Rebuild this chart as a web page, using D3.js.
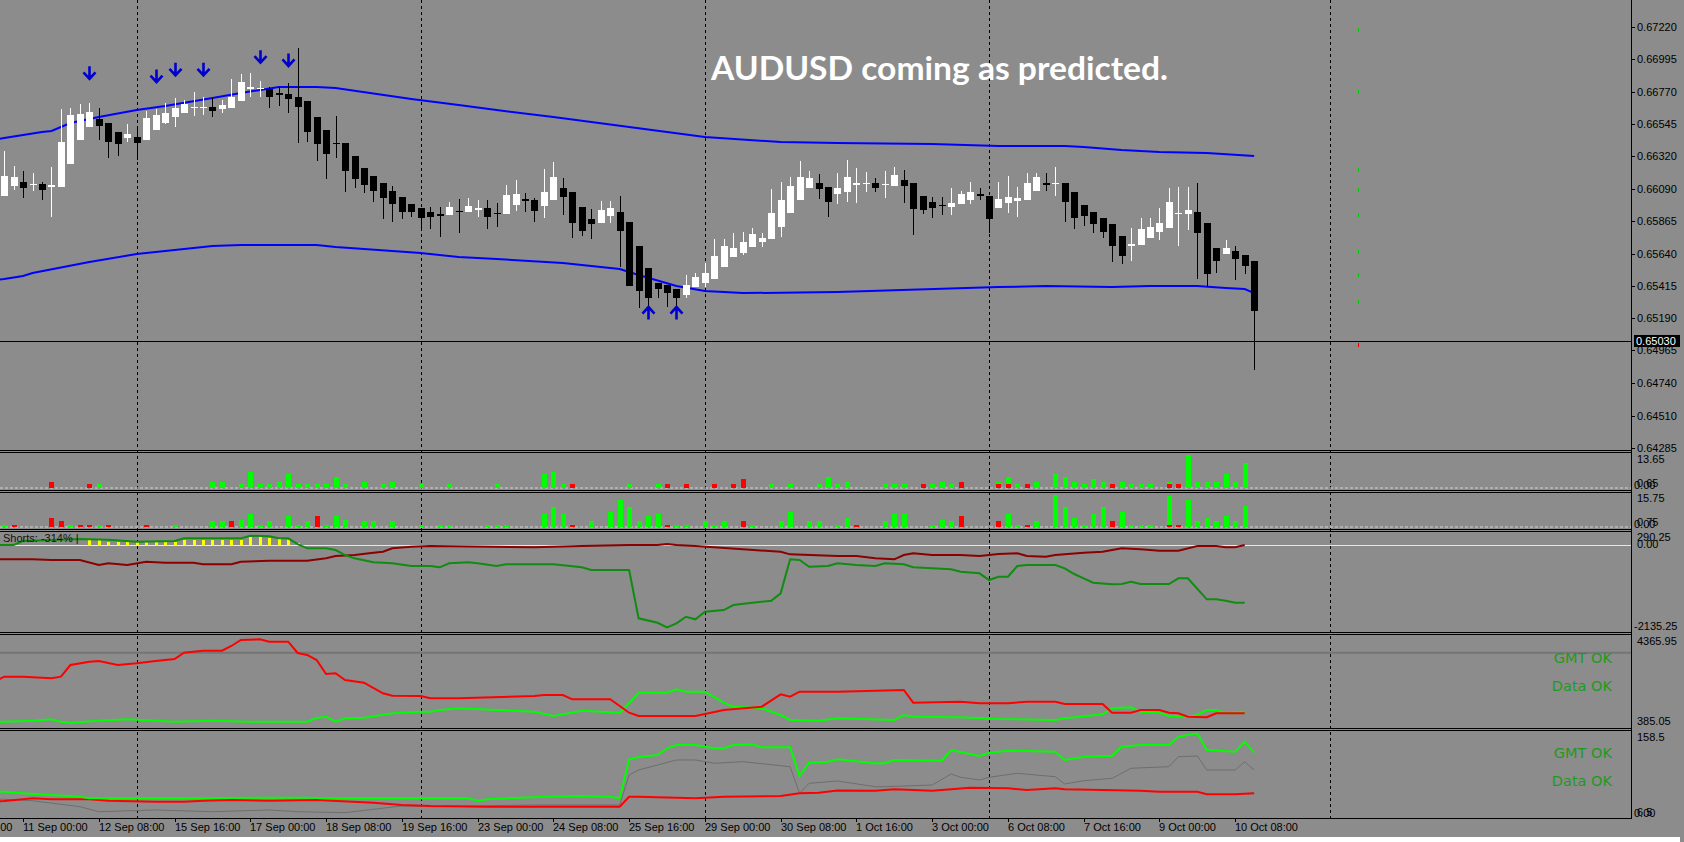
<!DOCTYPE html>
<html><head><meta charset="utf-8">
<script src="https://cdn.jsdelivr.net/npm/d3@7"></script>
<style>html,body{margin:0;padding:0;background:#8c8c8c;overflow:hidden}svg{display:block}</style>
</head><body>
<svg id="c" width="1684" height="842"></svg>
<script>
// ---------------- DATA (H4 bars; bar index 0 = 15 Sep 00:00) ----------------
const firstBar = -14; // 10 Sep 16:00
const open = [0.66044,0.66111,0.66142,0.66118,0.66125,0.66107,0.66107,0.66263,0.66432,0.66520,
0.66576,0.66553,0.66490,0.66448,0.66455,0.66432,0.66502,0.66553,0.66590,0.66618,
0.66655,0.66655,0.66664,0.66648,0.66653,0.66706,0.66785,0.66788,0.66785,0.66758,
0.66753,0.66734,0.66704,0.66595,0.66502,0.66414,0.66409,0.66321,0.66239,0.66181,
0.66130,0.66079,0.66032,0.65986,0.65956,0.65928,0.65914,0.65909,0.65937,0.65928,
0.65946,0.65956,0.65926,0.65916,0.65979,0.66018,0.66014,0.65974,0.66014,0.66095,
0.66067,0.65963,0.65881,0.65856,0.65902,0.65932,0.65863,0.65693,0.65542,0.65437,
0.65421,0.65393,0.65352,0.65405,0.65433,0.65463,0.65544,0.65614,0.65647,0.65684,
0.65723,0.65740,0.65823,0.65921,0.66014,0.66095,0.66130,0.66107,0.66056,0.66067,
0.66121,0.66125,0.66130,0.66118,0.66114,0.66153,0.66135,0.66042,0.66002,0.65979,
0.65967,0.65984,0.66014,0.66053,0.66042,0.65956,0.65991,0.66009,0.66014,0.66079,
0.66130,0.66125,0.66130,0.66067,0.65979,0.65932,0.65891,0.65844,0.65765,0.65695,
0.65700,0.65751,0.65793,0.65816,0.65916,0.65916,0.65932,0.65856,0.65677,0.65635,
0.65658,0.65630,0.65589];
const high = [0.66355,0.66251,0.66218,0.66204,0.66142,0.66246,0.66648,0.66653,0.66681,0.66692,
0.66657,0.66553,0.66490,0.66541,0.66518,0.66637,0.66646,0.66688,0.66723,0.66711,
0.66764,0.66734,0.66723,0.66711,0.66855,0.66892,0.66902,0.66846,0.66799,0.66799,
0.66832,0.67071,0.66704,0.66595,0.66502,0.66599,0.66409,0.66321,0.66239,0.66181,
0.66130,0.66114,0.66032,0.65986,0.65956,0.65967,0.65967,0.65998,0.66021,0.66025,
0.66014,0.66014,0.65991,0.66118,0.66153,0.66060,0.66025,0.66230,0.66276,0.66165,
0.66067,0.65963,0.65949,0.66007,0.66007,0.66042,0.65863,0.65693,0.65542,0.65437,
0.65421,0.65393,0.65491,0.65503,0.65572,0.65740,0.65740,0.65781,0.65793,0.65816,
0.65781,0.66088,0.66142,0.66177,0.66288,0.66218,0.66195,0.66107,0.66204,0.66293,
0.66235,0.66211,0.66165,0.66218,0.66246,0.66223,0.66135,0.66042,0.66037,0.66037,
0.66095,0.66077,0.66142,0.66095,0.66042,0.66142,0.66184,0.66107,0.66204,0.66204,
0.66204,0.66246,0.66130,0.66067,0.65979,0.65932,0.65891,0.65844,0.65765,0.65816,
0.65886,0.65886,0.65960,0.66095,0.66107,0.66102,0.66130,0.65856,0.65677,0.65735,
0.65693,0.65630,0.65589];
const low = [0.66044,0.66083,0.66030,0.66079,0.66014,0.65893,0.66107,0.66263,0.66432,0.66520,
0.66432,0.66304,0.66323,0.66420,0.66293,0.66432,0.66502,0.66544,0.66525,0.66618,
0.66599,0.66606,0.66595,0.66618,0.66653,0.66706,0.66734,0.66730,0.66657,0.66669,
0.66618,0.66414,0.66420,0.66288,0.66160,0.66304,0.66072,0.66095,0.66065,0.65998,
0.65881,0.65863,0.65881,0.65893,0.65800,0.65812,0.65753,0.65909,0.65781,0.65928,
0.65898,0.65812,0.65828,0.65916,0.65939,0.65932,0.65863,0.65886,0.66014,0.65909,
0.65751,0.65765,0.65742,0.65856,0.65856,0.65549,0.65414,0.65259,0.65259,0.65328,
0.65266,0.65259,0.65328,0.65405,0.65405,0.65463,0.65544,0.65614,0.65630,0.65684,
0.65688,0.65740,0.65753,0.65921,0.66014,0.66095,0.66021,0.65893,0.65986,0.65998,
0.65991,0.66072,0.66067,0.66030,0.66114,0.65991,0.65770,0.65916,0.65886,0.65909,
0.65909,0.65984,0.65986,0.66014,0.65786,0.65956,0.65921,0.65898,0.66014,0.66079,
0.66079,0.66044,0.65858,0.65809,0.65835,0.65781,0.65747,0.65579,0.65565,0.65591,
0.65700,0.65751,0.65735,0.65816,0.65695,0.65805,0.65463,0.65410,0.65503,0.65635,
0.65456,0.65496,0.64829];
const close = [0.66184,0.66177,0.66095,0.66128,0.66083,0.66116,0.66416,0.66606,0.66613,0.66627,
0.66530,0.66420,0.66404,0.66472,0.66414,0.66583,0.66606,0.66618,0.66653,0.66683,
0.66664,0.66664,0.66637,0.66674,0.66730,0.66839,0.66799,0.66797,0.66730,0.66748,
0.66720,0.66660,0.66486,0.66404,0.66332,0.66404,0.66218,0.66160,0.66118,0.66079,
0.66030,0.65984,0.65932,0.65932,0.65886,0.65893,0.65905,0.65963,0.65928,0.65972,
0.65956,0.65898,0.65916,0.66049,0.66056,0.66009,0.65939,0.66067,0.66172,0.66032,
0.65856,0.65800,0.65847,0.65944,0.65956,0.65800,0.65414,0.65379,0.65333,0.65393,
0.65363,0.65328,0.65421,0.65479,0.65503,0.65623,0.65693,0.65677,0.65719,0.65774,
0.65747,0.65926,0.66014,0.66114,0.66172,0.66165,0.66088,0.66002,0.66095,0.66177,
0.66130,0.66135,0.66095,0.66128,0.66188,0.66114,0.65949,0.65944,0.65956,0.65970,
0.65991,0.66053,0.66072,0.66044,0.65879,0.66018,0.66037,0.66025,0.66135,0.66177,
0.66121,0.66135,0.65998,0.65886,0.65905,0.65844,0.65793,0.65695,0.65626,0.65705,
0.65809,0.65828,0.65856,0.66002,0.65926,0.65944,0.65786,0.65498,0.65589,0.65677,
0.65600,0.65554,0.65242];

const upperBand = [[-15,0.66436],[-14,0.66446],[-10,0.66488],[-9,0.66495],[-7,0.66551],[-4,0.66593],[0,0.66641],[3,0.66669],[8,0.66725],[11,0.66760],[15,0.66802],[19,0.66802],[21,0.66795],[29,0.66718],[34,0.66676],[38,0.66641],[44,0.66593],[52,0.66523],[60,0.66453],[68,0.66418],[74,0.66411],[84,0.66404],[91,0.66390],[98,0.66390],[100,0.66383],[104,0.66362],[108,0.66349],[113,0.66342],[118,0.66321]];
const lowerBand = [[-15,0.65456],[-14,0.65463],[-12,0.65484],[-11,0.65505],[-5,0.65582],[0,0.65637],[8,0.65693],[11,0.65700],[19,0.65700],[21,0.65686],[30,0.65644],[34,0.65616],[38,0.65602],[45,0.65575],[51,0.65533],[53,0.65491],[57,0.65414],[60,0.65379],[64,0.65365],[74,0.65372],[91,0.65407],[96,0.65414],[103,0.65407],[107,0.65414],[112,0.65414],[115,0.65400],[117,0.65393],[118,0.65365]];

const downArrows = [[-5,0.66901],[2,0.66878],[4,0.66925],[7,0.66925],[13,0.67013],[16,0.66990]];
const upArrows = [[54,0.65226],[57,0.65226]];

const priceTicks = [0.67220,0.66995,0.66770,0.66545,0.66320,0.66090,0.65865,0.65640,0.65415,0.65190,0.64965,0.64740,0.64510,0.64285];
const bidPrice = 0.65030;
const titleText = "AUDUSD coming as predicted.";
const futureMarkBar = 129;
const futureGreenLevels = [0.67199,0.66767,0.66223,0.66084,0.65909,0.65651,0.65491,0.65303];
const futureRedLevels = [0.65003];

// sub window 1 & 2 histograms [bar, value]
const p1Green = [[-4,1.5],[8,2.2],[9,2.2],[11,1.5],[12,6.3],[13,1.5],[14,1.5],[15,2.2],[16,5.7],[17,1.5],[18,1.5],[19,1.5],[20,1.5],[21,4.3],[22,1.5],[24,2.2],[26,1.5],[27,2.2],[30,1.5],[33,1.5],[38,1.5],[43,5.7],[44,6.3],[45,1.5],[52,1.5],[55,1.5],[67,1.5],[69,1.5],[72,1.5],[73,4.3],[74,1.5],[75,2.2],[79,1.5],[80,1.5],[81,1.5],[84,1.5],[85,2.2],[86,1.5],[91,2.2],[92,4.3],[93,1.5],[95,2.2],[97,5.7],[98,4.3],[99,2.2],[100,1.5],[101,3.6],[102,2.2],[104,2.2],[105,1.5],[106,1.5],[107,1.5],[109,2.2],[111,13.65],[112,2.2],[113,2.2],[114,2.2],[115,5.7],[116,2.2],[117,10.3]];
const p1Red = [[-9,2.2],[-5,1.5],[46,1.5],[56,1.5],[58,1.5],[61,1.5],[63,1.5],[64,3.6],[83,1.5],[87,2.2],[91,1.5],[92,1.5],[94,1.5],[103,1.5],[109,1.5],[110,1.5]];
const p2Green = [[-14,0.8],[-7,0.8],[-4,0.8],[4,0.8],[8,2.5],[9,2.5],[11,3.3],[12,6.25],[13,0.8],[14,2.5],[16,5.3],[17,0.8],[18,2.5],[20,0.8],[21,5.3],[22,3.3],[24,2.5],[25,2.5],[27,2.5],[30,0.8],[32,0.8],[33,0.8],[37,0.8],[38,0.8],[39,0.8],[43,6.25],[44,9.5],[45,6.25],[48,2.5],[50,7.2],[51,13.1],[52,9.5],[53,2.5],[54,5.3],[55,6.25],[57,0.8],[58,0.8],[60,2.5],[61,0.8],[62,2.5],[65,0.8],[68,2.5],[69,7.2],[71,2.5],[72,2.5],[74,0.8],[75,4.3],[79,2.5],[80,6.25],[81,6.25],[84,0.8],[85,3.3],[86,2.5],[92,6.25],[93,0.8],[95,2.5],[97,15.75],[98,9.5],[99,4.3],[100,0.8],[101,6.25],[102,9.5],[104,7.2],[105,0.8],[106,0.8],[107,0.8],[109,14.8],[111,13.1],[112,2.5],[113,4.3],[114,2.5],[115,5.3],[116,2.5],[117,10.2]];
const p2Red = [[-13,0.8],[-9,4.3],[-8,2.5],[-6,0.8],[-5,0.8],[-3,0.8],[1,0.8],[10,2.5],[19,5.3],[46,0.8],[56,0.8],[64,2.5],[76,0.8],[87,5.3],[91,2.5],[94,0.8],[103,2.5],[109,0.8],[110,0.8]];

// sub window 3
const shortsLabel = "Shorts: -314% |";
const p3Yellow = [[-5,135],[-4,130],[-3,60],[-2,60],[-1,60],[0,60],[1,60],[2,60],[3,60],[4,60],[5,107],[6,107],[7,107],[8,107],[9,107],[10,107],[11,124],[12,206],[13,206],[14,165],[15,149],[16,124],[17,33]];
const p3Red = [[-15,-361],[-11,-361],[-9,-379],[-6,-379],[-4,-502],[-3,-460],[-1,-502],[1,-421],[3,-446],[6,-446],[7,-485],[10,-485],[11,-421],[14,-396],[18,-396],[20,-337],[21,-280],[23,-255],[25,-198],[26,-173],[27,-89],[29,-50],[31,-32],[42,-64],[47,-32],[52,-7],[55,-7],[56,17],[57,-7],[59,-32],[64,-114],[68,-173],[69,-238],[74,-280],[76,-280],[78,-337],[80,-361],[81,-255],[82,-213],[84,-255],[87,-255],[89,-280],[91,-230],[93,-213],[94,-280],[96,-297],[97,-255],[100,-198],[102,-173],[104,-89],[106,-114],[108,-149],[110,-149],[112,-32],[114,-32],[115,-64],[116,-64],[117,-7]];
const p3Green = [[-15,-7],[-13,-7],[-12,90],[-6,141],[-3,124],[0,74],[4,91],[5,158],[11,158],[12,223],[14,208],[15,158],[16,158],[17,17],[18,-89],[20,-89],[21,-131],[22,-255],[23,-337],[25,-436],[27,-460],[29,-527],[31,-527],[32,-559],[33,-460],[35,-436],[36,-460],[38,-527],[39,-485],[44,-485],[47,-559],[48,-626],[52,-626],[53,-1822],[55,-1931],[56,-2044],[57,-1945],[58,-1782],[59,-1846],[60,-1658],[62,-1616],[63,-1492],[65,-1436],[67,-1386],[68,-1203],[69,-361],[70,-379],[71,-545],[73,-527],[74,-460],[76,-502],[78,-527],[79,-460],[81,-485],[82,-559],[86,-609],[87,-668],[89,-708],[90,-874],[91,-792],[92,-792],[93,-527],[94,-502],[97,-502],[98,-584],[99,-725],[100,-832],[101,-940],[103,-980],[104,-973],[105,-916],[106,-973],[109,-973],[110,-832],[111,-832],[113,-1351],[114,-1351],[115,-1386],[116,-1436],[117,-1436]];

// sub window 4
const p4Level = 3600;
const p4Red = [[-15,2345],[-14,2562],[-12,2562],[-9,2492],[-8,2562],[-7,3068],[-5,3211],[-4,3241],[-2,3068],[0,3141],[2,3241],[4,3327],[5,3600],[7,3687],[9,3687],[10,3890],[11,4150],[13,4180],[14,4076],[16,4076],[17,3587],[18,3501],[19,3284],[20,2678],[21,2709],[22,2419],[24,2302],[26,1843],[27,1739],[30,1726],[31,1627],[34,1627],[42,1726],[43,1770],[45,1770],[46,1584],[50,1584],[52,1004],[53,861],[59,861],[62,1121],[66,1263],[68,1800],[69,1696],[70,1913],[74,1913],[81,1986],[82,1437],[87,1480],[89,1411],[92,1411],[94,1480],[97,1480],[98,1380],[102,1380],[103,1004],[105,1004],[106,1121],[108,1121],[109,1004],[110,978],[111,831],[113,805],[114,978],[117,978]];
const p4Green = [[-15,614],[-14,614],[-11,658],[-9,718],[-8,614],[-7,571],[-4,658],[-1,718],[4,614],[8,658],[12,614],[18,614],[19,775],[20,831],[21,614],[22,762],[24,788],[27,978],[30,1047],[31,1047],[32,1121],[34,1194],[38,1121],[42,1047],[44,861],[47,1090],[51,1004],[52,1411],[53,1869],[56,1869],[57,2016],[58,1913],[60,1913],[62,1437],[63,1263],[66,1194],[68,904],[69,688],[72,658],[74,762],[80,688],[81,904],[82,831],[87,805],[91,731],[97,688],[98,762],[102,935],[103,1194],[105,1238],[106,1047],[108,1004],[109,861],[111,831],[112,904],[113,1121],[114,1121],[115,1004],[117,1047]];

// sub window 5
const p5Gray = [[-15,34.1],[-14,34.1],[-11,31.5],[-6,20.6],[-4,11.5],[2,14.6],[8,11.5],[14,14.6],[17,11.5],[22,9.7],[25,15.9],[28,21.9],[31,20.6],[42,23.7],[51,23.7],[52,78.3],[53,87.5],[57,105.7],[59,105.7],[61,99.7],[64,102.6],[69,93.5],[70,45.0],[71,63.2],[74,67.4],[78,57.0],[79,57.0],[84,60.1],[86,80.2],[87,74.2],[89,69.2],[90,74.2],[93,81.4],[97,75.2],[98,61.9],[100,68.0],[103,72.3],[105,90.6],[109,93.5],[110,111.7],[112,113.0],[113,87.5],[116,87.5],[117,102.6],[118,87.5]];
const p5Red = [[-15,30],[-14,31],[-12,34.1],[-11,35.9],[-9,34.1],[-5,34.1],[-3,31.5],[2,29.7],[5,29.7],[7,31.5],[10,32.8],[14,31.5],[19,32.8],[25,27.9],[28,23.7],[31,21.9],[37,20.6],[51,20.6],[52,38.8],[53,38.8],[59,35.9],[62,38.8],[68,40.1],[70,45.0],[72,46.1],[74,50.1],[78,49.7],[80,52.3],[84,49.7],[86,52.3],[88,55.2],[92,54.1],[94,51.0],[97,54.1],[98,52.3],[106,49.7],[108,47.9],[112,47.9],[113,43.2],[116,43.2],[118,45.0]];
const p5Green = [[-15,47.9],[-14,47.9],[-12,45.0],[-9,41.9],[-6,38.8],[-5,35.9],[5,35.9],[14,37.0],[18,37.0],[20,35.9],[35,35.9],[36,31.5],[37,34.1],[43,38.8],[47,40.1],[50,38.8],[51,35.9],[52,106.9],[53,111.1],[55,114.8],[56,127.0],[57,133.0],[59,133.0],[61,127.0],[62,127.0],[63,133.0],[65,134.3],[66,128.8],[69,128.8],[70,76.5],[71,100.8],[73,102.6],[74,106.9],[78,99.7],[79,99.7],[80,105.7],[85,104.4],[86,123.9],[88,116.6],[89,113.0],[90,119.0],[92,122.6],[97,120.8],[98,105.7],[100,111.7],[103,113.5],[104,129.9],[106,133.0],[109,133.0],[110,148.1],[112,154.3],[113,123.9],[116,120.8],[117,139.0],[118,119.0]];
const statusTexts = ["GMT OK","Data OK"];

const weekSeparators = [0,30,60,90,126];
const timeLabelBars = [-20,-12,-4,4,12,20,28,36,44,52,60,68,76,84,92,100,108,116];
const timeLabels = ["10 Sep 16:00","11 Sep 00:00","12 Sep 08:00","15 Sep 16:00","17 Sep 00:00","18 Sep 08:00","19 Sep 16:00","23 Sep 00:00","24 Sep 08:00","25 Sep 16:00","29 Sep 00:00","30 Sep 08:00","1 Oct 16:00","3 Oct 00:00","6 Oct 08:00","7 Oct 16:00","9 Oct 00:00","10 Oct 08:00"];

// ---------------- DRAWING ----------------
const PR = 1631, BG = '#8c8c8c', FONT = "'Liberation Sans', Arial, sans-serif";
const svg = d3.select('#c');
svg.append('rect').attr('width',1684).attr('height',842).attr('fill',BG);
svg.append('rect').attr('x',0).attr('y',837).attr('width',1680).attr('height',5).attr('fill','#ffffff');

const x = d3.scaleLinear().domain([0, 90]).range([136.7, 989]);
const yP = d3.scaleLinear().domain([0.64285, 0.67220]).range([448, 27]);
const y1 = d3.scaleLinear().domain([0, 13.65]).range([487.7, 454.7]);
const y2 = d3.scaleLinear().domain([0, 15.75]).range([526.5, 494.5]);
const y3 = d3.scaleLinear().domain([-2135.25, 290.25]).range([631, 533]);
const y4 = d3.scaleLinear().domain([385.05, 4365.95]).range([727, 635]);
const y5 = d3.scaleLinear().domain([0, 158.5]).range([818, 731]);
const cx = i => Math.round(x(i));

const defs = svg.append('defs');
function clip(id, y0, h){ defs.append('clipPath').attr('id',id).append('rect').attr('x',0).attr('y',y0).attr('width',PR).attr('height',h); return svg.append('g').attr('clip-path',`url(#${id})`); }

// week separators
svg.append('g').selectAll('line').data(weekSeparators).join('line')
  .attr('x1',d=>cx(d)+0.5).attr('x2',d=>cx(d)+0.5).attr('y1',0).attr('y2',818)
  .attr('stroke','#000').attr('stroke-width',1).attr('stroke-dasharray','3,3');

// ---- main window ----
const gM = clip('cm', 0, 450);
gM.append('line').attr('x1',0).attr('x2',PR).attr('y1',Math.round(yP(bidPrice))+0.5).attr('y2',Math.round(yP(bidPrice))+0.5).attr('stroke','#000').attr('stroke-width',1);
const lineP = d3.line().x(d=>x(d[0])).y(d=>yP(d[1]));
gM.append('path').attr('d',lineP(upperBand)).attr('fill','none').attr('stroke','#0000ff').attr('stroke-width',2);
gM.append('path').attr('d',lineP(lowerBand)).attr('fill','none').attr('stroke','#0000ff').attr('stroke-width',2);

const candles = open.map((o,k)=>({i:firstBar+k,o,h:high[k],l:low[k],c:close[k]}));
const gc = gM.append('g').attr('shape-rendering','crispEdges');
gc.selectAll('rect.w').data(candles).join('rect').attr('class','w')
  .attr('x',d=>cx(d.i)).attr('width',1)
  .attr('y',d=>yP(d.h)).attr('height',d=>Math.max(1,yP(d.l)-yP(d.h)))
  .attr('fill',d=>d.c>=d.o?'#fff':'#000');
gc.selectAll('rect.b').data(candles).join('rect').attr('class','b')
  .attr('x',d=>cx(d.i)-3).attr('width',7)
  .attr('y',d=>yP(Math.max(d.o,d.c)))
  .attr('height',d=>Math.max(1,yP(Math.min(d.o,d.c))-yP(Math.max(d.o,d.c))))
  .attr('fill',d=>d.c>=d.o?'#fff':'#000');

const arrowDown = 'M0,-6.5V6 M-6,-0.5L0,6L6,-0.5';
gM.append('g').selectAll('path').data(downArrows).join('path')
  .attr('d',arrowDown).attr('transform',d=>`translate(${cx(d[0])+0.5},${yP(d[1])})`)
  .attr('fill','none').attr('stroke','#0000cc').attr('stroke-width',2.6);
gM.append('g').selectAll('path').data(upArrows).join('path')
  .attr('d',arrowDown).attr('transform',d=>`translate(${cx(d[0])+0.5},${yP(d[1])}) scale(1,-1)`)
  .attr('fill','none').attr('stroke','#0000cc').attr('stroke-width',2.6);

gM.append('g').selectAll('rect').data(futureGreenLevels.map(v=>[v,'#00c800']).concat(futureRedLevels.map(v=>[v,'#e00000'])))
  .join('rect').attr('x',cx(futureMarkBar)).attr('width',1).attr('y',d=>yP(d[0])-2).attr('height',4).attr('fill',d=>d[1]);

const title = svg.append('text').attr('x',711).attr('y',80).text(titleText)
  .attr('font-family',"Lato, 'Open Sans', sans-serif").attr('font-weight',700).attr('font-size',32)
  .attr('fill','#ffffff').attr('textLength',457).attr('lengthAdjust','spacingAndGlyphs');

// ---- sub window 1 & 2 ----
function hist(g, data, ys, color){
  g.append('g').attr('shape-rendering','crispEdges').selectAll('rect').data(data).join('rect')
    .attr('x',d=>cx(d[0])-2).attr('width',5).attr('y',d=>ys(d[1])).attr('height',d=>ys(0)-ys(d[1])).attr('fill',color);
}
const g1 = clip('c1', 453, 37);
g1.append('line').attr('x1',0).attr('x2',PR).attr('y1',488).attr('y2',488).attr('stroke','#d2d2d2').attr('stroke-dasharray','3,2');
hist(g1, p1Green, y1, '#00ff00'); hist(g1, p1Red, y1, '#ff0000');
const g2 = clip('c2', 492, 37);
g2.append('line').attr('x1',0).attr('x2',PR).attr('y1',527).attr('y2',527).attr('stroke','#d2d2d2').attr('stroke-dasharray','3,2');
hist(g2, p2Green, y2, '#00ff00'); hist(g2, p2Red, y2, '#ff0000');

// ---- sub window 3 ----
const g3 = clip('c3', 531, 101);
g3.append('line').attr('x1',0).attr('x2',PR).attr('y1',Math.round(y3(0))+0.5).attr('y2',Math.round(y3(0))+0.5).attr('stroke','#e6e6e6').attr('stroke-width',1);
g3.append('g').attr('shape-rendering','crispEdges').selectAll('rect').data(p3Yellow).join('rect')
  .attr('x',d=>cx(d[0])-1).attr('width',3).attr('y',d=>y3(d[1])).attr('height',d=>y3(0)-y3(d[1])).attr('fill','#ffff00');
const l3 = d3.line().x(d=>x(d[0])).y(d=>y3(d[1]));
g3.append('path').attr('d',l3(p3Red)).attr('fill','none').attr('stroke','#8b0000').attr('stroke-width',2);
g3.append('path').attr('d',l3(p3Green)).attr('fill','none').attr('stroke','#108c10').attr('stroke-width',2);
svg.append('text').attr('x',3).attr('y',542).text(shortsLabel).attr('font-family',FONT).attr('font-size',11).attr('fill','#111');

// ---- sub window 4 ----
const g4 = clip('c4', 634, 94);
g4.append('line').attr('x1',0).attr('x2',PR).attr('y1',y4(p4Level)).attr('y2',y4(p4Level)).attr('stroke','#757575').attr('stroke-width',2);
const l4 = d3.line().x(d=>x(d[0])).y(d=>y4(d[1]));
g4.append('path').attr('d',l4(p4Green)).attr('fill','none').attr('stroke','#00ff00').attr('stroke-width',2);
g4.append('path').attr('d',l4(p4Red)).attr('fill','none').attr('stroke','#ff0000').attr('stroke-width',2);

// ---- sub window 5 ----
const g5 = clip('c5', 730, 88);
const l5 = d3.line().x(d=>x(d[0])).y(d=>y5(d[1]));
g5.append('path').attr('d',l5(p5Gray)).attr('fill','none').attr('stroke','#6e6e6e').attr('stroke-width',1);
g5.append('path').attr('d',l5(p5Red)).attr('fill','none').attr('stroke','#ff0000').attr('stroke-width',2);
g5.append('path').attr('d',l5(p5Green)).attr('fill','none').attr('stroke','#00ff00').attr('stroke-width',2);

// status texts
[[663,690.5],[758,785.5]].forEach(pos=>{
  statusTexts.forEach((t,k)=>{
    svg.append('text').attr('x',1612).attr('y',pos[k]).attr('text-anchor','end').text(t)
      .attr('font-family',"'DejaVu Sans', sans-serif").attr('font-size',14.5).attr('fill','#1e9a1e');
  });
});

// ---- frames ----
const frameY = [450,452,490,492,529,531,632,634,728,730,818];
svg.append('g').attr('shape-rendering','crispEdges').selectAll('line').data(frameY).join('line')
  .attr('x1',0).attr('x2',PR+1).attr('y1',d=>d+0.5).attr('y2',d=>d+0.5).attr('stroke','#000');
svg.append('line').attr('x1',PR+0.5).attr('x2',PR+0.5).attr('y1',0).attr('y2',818).attr('stroke','#000').attr('shape-rendering','crispEdges');

// ---- price axis ----
const ax = svg.append('g').attr('font-family',FONT).attr('font-size',11).attr('fill','#000');
priceTicks.forEach(p=>{
  const yy = Math.round(yP(p))+0.5;
  ax.append('line').attr('x1',PR).attr('x2',PR+4).attr('y1',yy).attr('y2',yy).attr('stroke','#000');
  ax.append('text').attr('x',1637).attr('y',yy).attr('dy','0.35em').text(p.toFixed(5));
});
const by = Math.round(yP(bidPrice));
ax.append('rect').attr('x',1634).attr('y',by-6).attr('width',46).attr('height',12).attr('fill','#000');
ax.append('text').attr('x',1636).attr('y',by).attr('dy','0.35em').attr('fill','#fff').text(bidPrice.toFixed(5));

// sub window scale labels
const subLabels = [
  ["13.65",1637,459],["0.00",1634,485],["0.65",1637,483],
  ["15.75",1637,498],["0.00",1634,524],["0.75",1637,522],
  ["290.25",1637,537.5],["0.00",1637,544.5],["-2135.25",1634,626],
  ["4365.95",1637,641.5],["385.05",1637,721],
  ["158.5",1637,736.7],["0.00",1634,813.5],["6.5",1637,812]
];
ax.selectAll('text.s').data(subLabels).join('text').attr('class','s')
  .attr('x',d=>d[1]).attr('y',d=>d[2]).attr('dy','0.35em').text(d=>d[0]);

// ---- time axis ----
const tg = svg.append('g').attr('font-family',FONT).attr('font-size',11).attr('fill','#000');
tg.selectAll('line').data(timeLabelBars).join('line')
  .attr('x1',d=>cx(d)+0.5).attr('x2',d=>cx(d)+0.5).attr('y1',818).attr('y2',822).attr('stroke','#000');
tg.selectAll('text').data(timeLabelBars).join('text')
  .attr('x',d=>cx(d)).attr('y',831).text((d,k)=>timeLabels[k]);
</script>
</body></html>
